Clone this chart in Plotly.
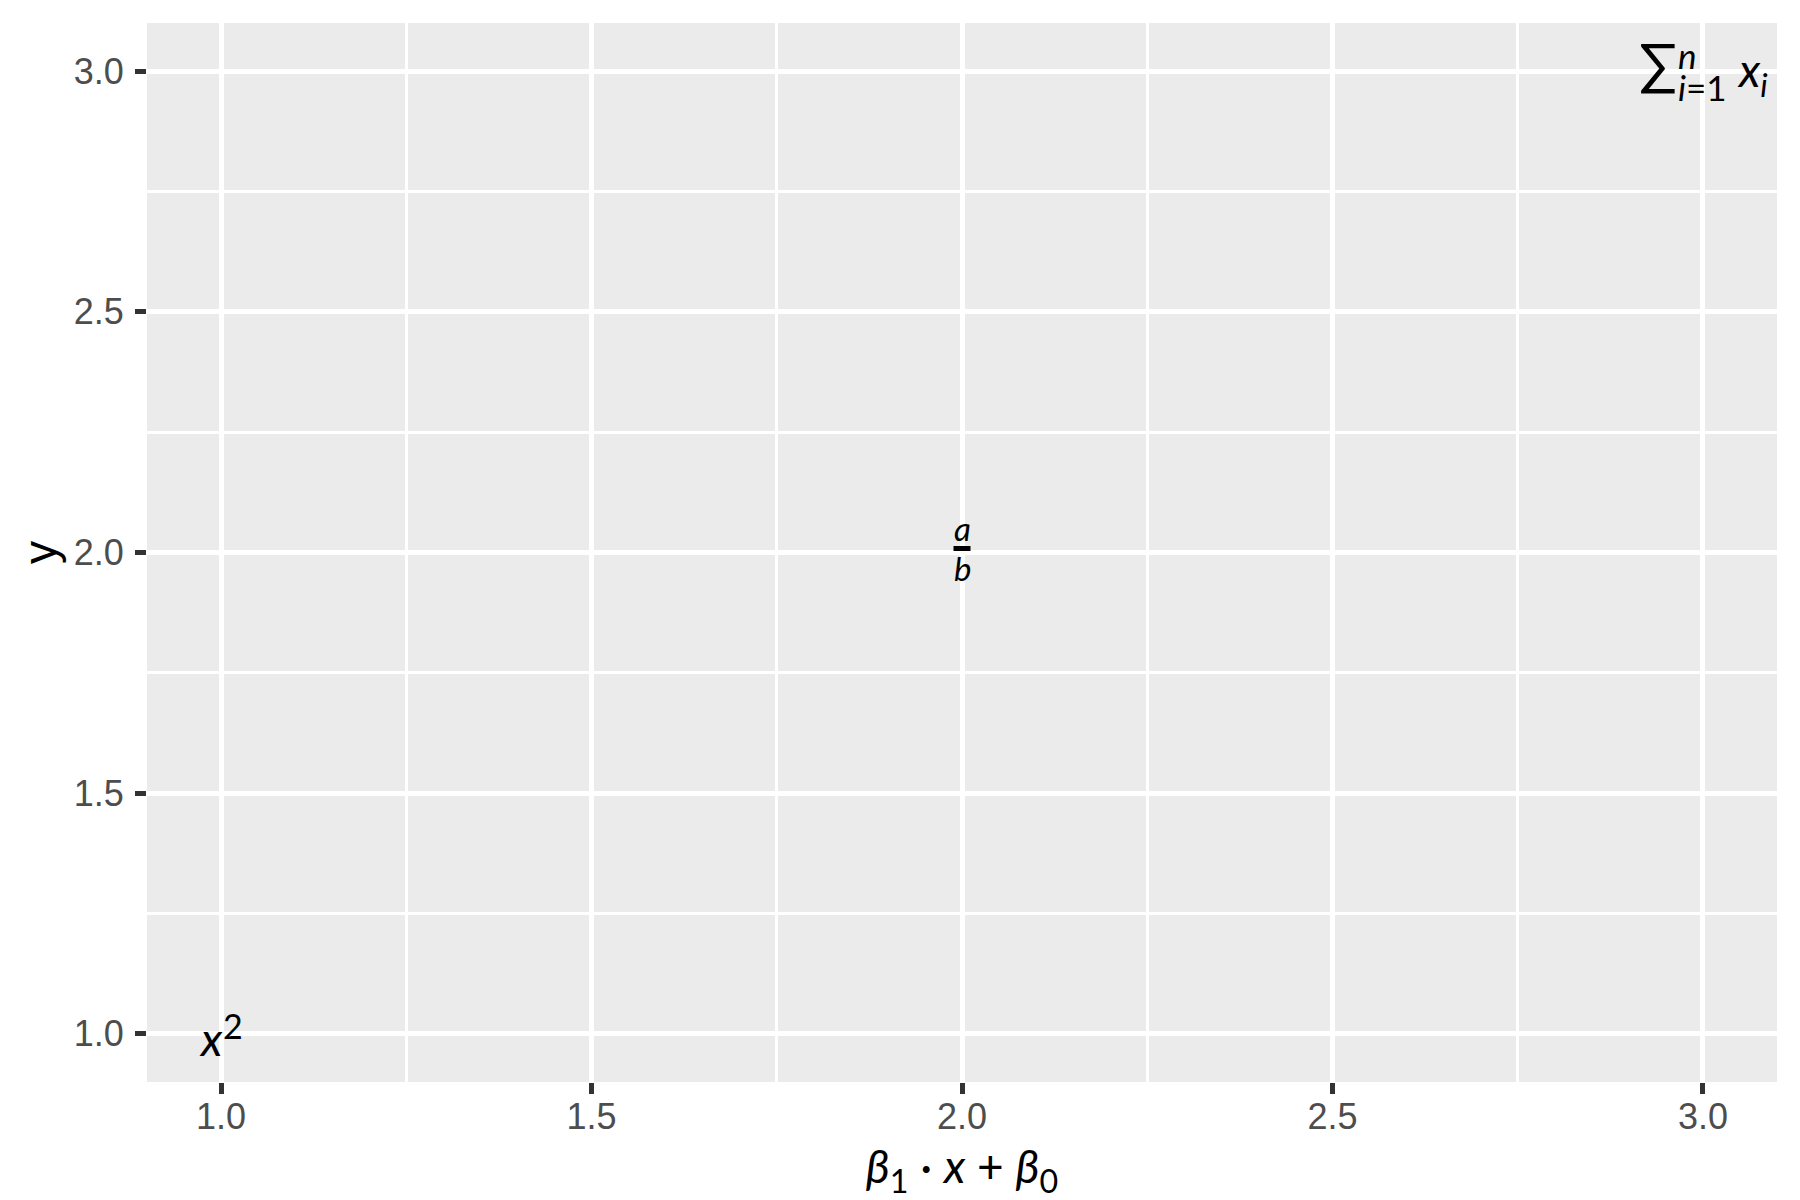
"""Math-label annotations on an empty ggplot-style panel."""

import plotly.graph_objects as go

# annotation anchors (data coordinates)
expr_x = [1, 2, 3]
expr_y = [1, 2, 3]
expr_names = ["power", "fraction", "sum"]

x_ticks = [1.0, 1.5, 2.0, 2.5, 3.0]
y_ticks = [1.0, 1.5, 2.0, 2.5, 3.0]
x_range = [0.9, 3.1]
y_range = [0.9, 3.1]

PANEL = "#EBEBEB"
TICK_TXT = "#4D4D4D"
MATH_FONT = "Lato"

# pieces of each expression: (text, size, xshift, yshift)
pieces = {
    "power": [("<i>x</i>", 46, -10, -5), ("2", 34, 12, 8)],
    "fraction": [("<i>a</i>", 33, 0, 25), ("<i>b</i>", 33, 0, -15)],
    "sum": [
        ("∑", 56, -45, 9),
        ("<i>n</i>", 35, -15, 16),
        ("<i>i</i>=1", 35, 0, -16),
        ("<i>x</i><sub><i>i</i></sub>", 46, 50, -2),
    ],
}

fig = go.Figure()

annotations = []
shapes = []
for name, ax, ay in zip(expr_names, expr_x, expr_y):
    for text, size, dx, dy in pieces[name]:
        annotations.append(
            dict(
                x=ax,
                y=ay,
                xref="x",
                yref="y",
                text=text,
                showarrow=False,
                xanchor="center",
                yanchor="middle",
                xshift=dx,
                yshift=dy,
                font=dict(family=MATH_FONT, size=size, color="black"),
            )
        )
    if name == "fraction":
        # fraction bar, anchored at the data point
        shapes.append(
            dict(
                type="line",
                xref="x",
                yref="y",
                xsizemode="pixel",
                ysizemode="pixel",
                xanchor=ax,
                yanchor=ay,
                x0=-8.5,
                x1=8.5,
                y0=4,
                y1=4,
                line=dict(color="black", width=5),
            )
        )

# page body has an 8px margin, so the figure is sized to fit inside it
fig.update_layout(
    width=1792,
    height=1192,
    paper_bgcolor="white",
    plot_bgcolor=PANEL,
    margin=dict(l=139, r=23, t=15, b=118),
    showlegend=False,
    annotations=annotations,
    shapes=shapes,
    font=dict(family="Liberation Sans, Arial", color=TICK_TXT),
)

axis_common = dict(
    showline=False,
    zeroline=False,
    showgrid=True,
    gridcolor="white",
    gridwidth=5,
    ticks="outside",
    ticklen=11,
    tickwidth=5,
    tickcolor="#333333",
    tickfont=dict(family="Liberation Sans, Arial", size=36, color=TICK_TXT),
    tickformat=".1f",
    automargin=False,
)

fig.update_xaxes(
    range=x_range,
    tickmode="array",
    tickvals=x_ticks,
    minor=dict(dtick=0.25, tick0=0, showgrid=True, gridcolor="white", gridwidth=2.7, ticks=""),
    title=dict(
        text="<i>β</i><sub>1</sub> · <i>x</i> + <i>β</i><sub>0</sub>",
        font=dict(family=MATH_FONT, size=46, color="black"),
        standoff=23,
    ),
    ticklabelstandoff=-8,
    **axis_common,
)
fig.update_yaxes(
    range=y_range,
    tickmode="array",
    tickvals=y_ticks,
    minor=dict(dtick=0.25, tick0=0, showgrid=True, gridcolor="white", gridwidth=2.7, ticks=""),
    title=dict(
        text="y",
        font=dict(family="Liberation Sans, Arial", size=46, color="black"),
        standoff=2,
    ),
    ticklabelstandoff=4,
    **axis_common,
)

fig.write_html("out.html")
